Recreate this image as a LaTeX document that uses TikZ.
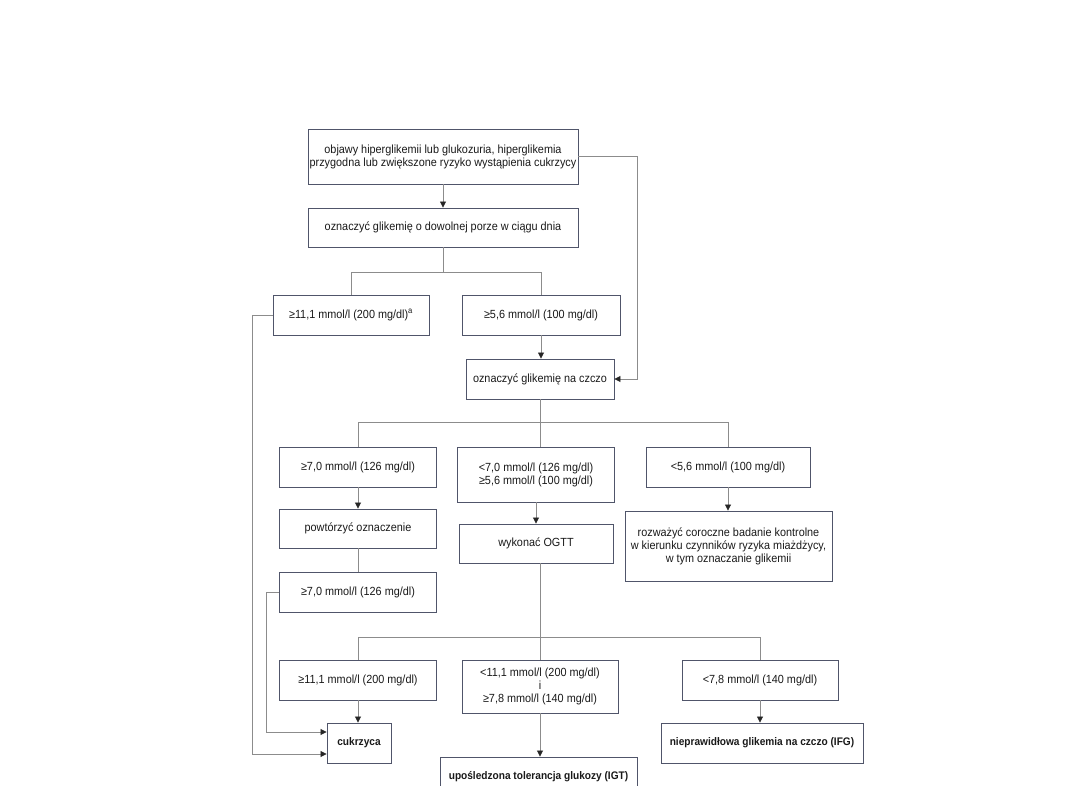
\documentclass[tikz,border=0pt]{standalone}
\usepackage{fontspec}
\setmainfont{Liberation Sans}[FakeStretch=0.92]
\usetikzlibrary{arrows.meta}
\definecolor{boxc}{HTML}{50556A}
\definecolor{linec}{HTML}{8C8C8C}
\definecolor{txtc}{HTML}{1A1A1A}
\begin{document}
\begin{tikzpicture}[x=1pt,y=-1pt,
  bx/.style={draw=boxc,line width=0.9pt,fill=white,inner sep=0pt,align=center,text=txtc,font=\fontsize{11.8}{13}\selectfont},
  bbx/.style={bx,font=\fontsize{11}{13}\selectfont\bfseries},
  conn/.style={draw=linec,line width=0.8pt},
  arr/.style={conn,-{Triangle[width=6pt,length=6pt,color=black!85]}}
 ]
\useasboundingbox (0,0) rectangle (1080,810);
\fill[white] (0,0) rectangle (1080,810);
\begin{scope}
\clip (0,0) rectangle (1080,785);
% row 1-2
\node[bx,minimum width=270pt,minimum height=55pt] (b1) at (443,156.5) {objawy hiperglikemii lub glukozuria, hiperglikemia\\przygodna lub zwiększone ryzyko wystąpienia cukrzycy};
\node[bx,minimum width=270pt,minimum height=39pt] (b2) at (443,227.5) {oznaczyć glikemię o dowolnej porze w ciągu dnia};
% row 3
\node[bx,minimum width=156pt,minimum height=40pt] (b3) at (351,315) {≥11,1 mmol/l (200 mg/dl)\textsuperscript{a}};
\node[bx,minimum width=158pt,minimum height=40pt] (b4) at (541,315) {≥5,6 mmol/l (100 mg/dl)};
% row 4
\node[bx,minimum width=148pt,minimum height=40pt] (b5) at (540,379) {oznaczyć glikemię na czczo};
% row 5
\node[bx,minimum width=157pt,minimum height=40pt] (b6) at (358,467) {≥7,0 mmol/l (126 mg/dl)};
\node[bx,minimum width=157pt,minimum height=55pt] (b7) at (536,474.5) {<7,0 mmol/l (126 mg/dl)\\≥5,6 mmol/l (100 mg/dl)};
\node[bx,minimum width=164pt,minimum height=40pt] (b8) at (728,467) {<5,6 mmol/l (100 mg/dl)};
% row 6
\node[bx,minimum width=157pt,minimum height=39pt] (b9) at (358,528.5) {powtórzyć oznaczenie};
\node[bx,minimum width=154pt,minimum height=39pt] (b10) at (536,543.5) {wykonać OGTT};
\node[bx,minimum width=207pt,minimum height=70pt] (b11) at (728.5,546) {rozważyć coroczne badanie kontrolne\\w kierunku czynników ryzyka miażdżycy,\\w tym oznaczanie glikemii};
% row 7
\node[bx,minimum width=157pt,minimum height=40pt] (b12) at (358,592) {≥7,0 mmol/l (126 mg/dl)};
% row 8
\node[bx,minimum width=157pt,minimum height=40pt] (b13) at (358,680) {≥11,1 mmol/l (200 mg/dl)};
\node[bx,minimum width=156pt,minimum height=53pt] (b14) at (540,686.5) {<11,1 mmol/l (200 mg/dl)\\i\\≥7,8 mmol/l (140 mg/dl)};
\node[bx,minimum width=156pt,minimum height=40pt] (b15) at (760,680) {<7,8 mmol/l (140 mg/dl)};
% row 9
\node[bbx,minimum width=64pt,minimum height=40pt] (b16) at (359,743) {cukrzyca};
\node[bbx,minimum width=197pt,minimum height=40pt] (b17) at (538.5,777) {upośledzona tolerancja glukozy (IGT)};
\node[bbx,minimum width=202pt,minimum height=40pt] (b18) at (762,743) {nieprawidłowa glikemia na czczo (IFG)};
% junction coordinates
\coordinate (j1) at (0,272);
\coordinate (j2) at (0,422);
\coordinate (j3) at (0,637);
\coordinate (r1) at (637,0);
\coordinate (l1) at (266,0);
\coordinate (l2) at (252,0);
\coordinate (m1) at (540,0);
\coordinate (c1) at ([yshift=11pt]b16.west);
\coordinate (c2) at ([yshift=-11pt]b16.west);
% connectors
\draw[arr] (b1.south) -- (b2.north);
\draw[conn] (b2.south) -- (b2.south |- j1);
\draw[conn] (b3.north) -- (b3.north |- j1) -- (b4.north |- j1) -- (b4.north);
\draw[arr] (b4.south) -- (b4.south |- b5.north);
\draw[arr] (b1.east) -- (b1.east -| r1) -- (r1 |- b5.east) -- (b5.east);
\draw[conn] (b5.south) -- (b5.south |- b7.north);
\draw[conn] (b6.north) -- (b6.north |- j2) -- (b8.north |- j2) -- (b8.north);
\draw[arr] (b6.south) -- (b9.north);
\draw[arr] (b7.south) -- (b10.north);
\draw[arr] (b8.south) -- (b8.south |- b11.north);
\draw[conn] (b9.south) -- (b12.north);
\draw[conn] (b10.south -| m1) -- (m1 |- b14.north);
\draw[conn] (b13.north) -- (b13.north |- j3) -- (b15.north |- j3) -- (b15.north);
\draw[arr] (b13.south) -- (b13.south |- b16.north);
\draw[arr] (b14.south) -- (b14.south |- b17.north);
\draw[arr] (b15.south) -- (b15.south |- b18.north);
\draw[arr] (b12.west) -- (b12.west -| l1) -- (l1 |- c1) -- (c1);
\draw[arr] (b3.west) -- (b3.west -| l2) -- (l2 |- c2) -- (c2);
\end{scope}
\end{tikzpicture}
\end{document}
